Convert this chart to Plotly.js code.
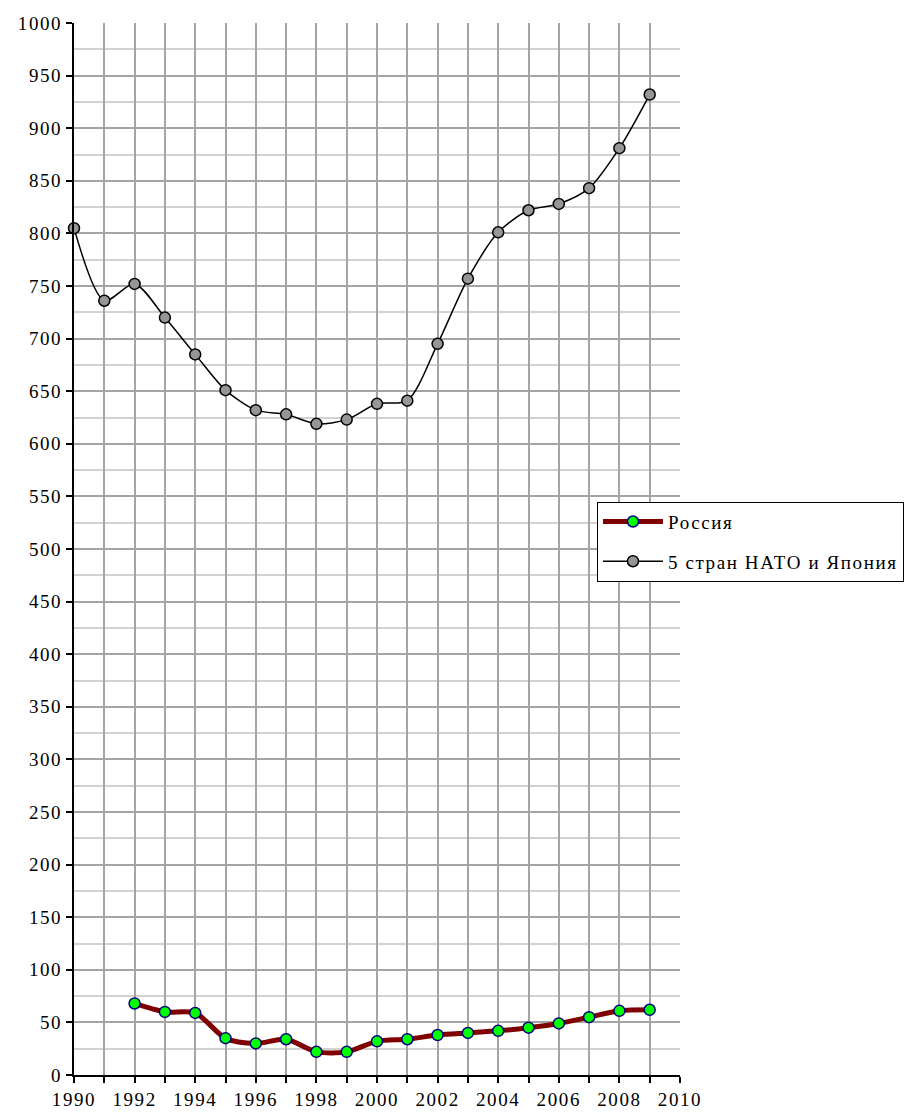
<!DOCTYPE html>
<html>
<head>
<meta charset="utf-8">
<script src="https://cdn.plot.ly/plotly-3.0.1.min.js"></script>
<style>
html,body{margin:0;padding:0;background:#fff;}
#chart{width:907px;height:1115px;}
text{letter-spacing:1.6px;}
</style>
</head>
<body>
<div id="chart"></div>
<script>
const years = [1990,1991,1992,1993,1994,1995,1996,1997,1998,1999,2000,2001,2002,2003,2004,2005,2006,2007,2008,2009];
const russiaYears = [1992,1993,1994,1995,1996,1997,1998,1999,2000,2001,2002,2003,2004,2005,2006,2007,2008,2009];
const russia = [68,60,59,35,30,34,22,22,32,34,38,40,42,45,49,55,61,62];
const nato = [805,736,752,720,685,651,632,628,619,623,638,641,695,757,801,822,828,843,881,932];
const seriesNames = ['Россия','5 стран НАТО и Япония'];
const xTickVals = [1990,1991,1992,1993,1994,1995,1996,1997,1998,1999,2000,2001,2002,2003,2004,2005,2006,2007,2008,2009,2010];
const xTickText = xTickVals.map(v => (v % 2 === 0 ? String(v) : ''));

const fontFam = 'Liberation Serif, Times New Roman, serif';

const traces = [
  {
    x: russiaYears, y: russia, name: seriesNames[0], legendgroup: 'a', type: 'scatter', mode: 'lines+markers',
    line: {color: '#800000', width: 5, shape: 'spline', smoothing: 0.8},
    marker: {color: '#00ff00', size: 11, line: {color: '#000080', width: 1.5}},
    cliponaxis: false
  },
  {
    x: years, y: nato, name: seriesNames[1], legendgroup: 'b', type: 'scatter', mode: 'lines+markers',
    line: {color: '#000000', width: 1.5, shape: 'spline', smoothing: 0.8},
    marker: {color: '#969696', size: 11, line: {color: '#000000', width: 1.5}},
    cliponaxis: false
  }
];

const layout = {
  width: 907, height: 1115,
  margin: {l: 74, r: 227, t: 23, b: 40, autoexpand: false},
  paper_bgcolor: '#ffffff', plot_bgcolor: '#ffffff',
  font: {family: fontFam, size: 19, color: '#000'},
  showlegend: true,
  legend: {
    x: 0.863, y: 0.545, xanchor: 'left', yanchor: 'top',
    bgcolor: '#ffffff', bordercolor: '#000000', borderwidth: 1,
    font: {family: fontFam, size: 19, color: '#000'},
    traceorder: 'grouped', tracegroupgap: 12, itemwidth: 60
  },
  xaxis: {
    range: [1990, 2010], tickmode: 'array', tickvals: xTickVals, ticktext: xTickText,
    showgrid: true, gridcolor: '#a4a4a4', gridwidth: 2,
    showline: true, linecolor: '#000', linewidth: 2,
    ticks: 'outside', ticklen: 6, tickwidth: 2, tickcolor: '#000',
    zeroline: false, automargin: false, tickfont: {family: fontFam, size: 19, color: '#000'}
  },
  yaxis: {
    range: [0, 1000], dtick: 50, tick0: 0,
    showgrid: true, gridcolor: '#a4a4a4', gridwidth: 2,
    minor: {dtick: 25, showgrid: true, gridcolor: '#d2d2d2', gridwidth: 2, ticks: ''},
    showline: true, linecolor: '#000', linewidth: 2,
    ticks: 'outside', ticklen: 6, tickwidth: 2, tickcolor: '#000',
    zeroline: false, automargin: false, tickfont: {family: fontFam, size: 19, color: '#000'}
  }
};

Plotly.newPlot('chart', traces, layout, {displayModeBar: false, staticPlot: true});
</script>
</body>
</html>
